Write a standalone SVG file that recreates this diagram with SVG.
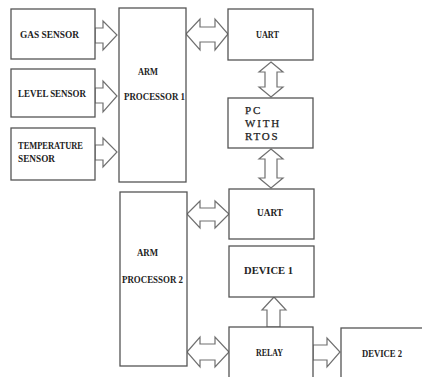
<svg xmlns="http://www.w3.org/2000/svg" width="422" height="377" viewBox="0 0 422 377">
<style>
.box{fill:#fff;stroke:#555;stroke-width:1.3}
.arr{fill:#fff;stroke:#707070;stroke-width:1.2;stroke-linejoin:miter}
.t{font-family:"Liberation Serif","Times New Roman",serif;font-weight:bold;font-size:9.5px;fill:#222}
.pc{font-family:"Liberation Serif","Times New Roman",serif;font-size:11px;fill:#222;letter-spacing:1.8px;stroke:#222;stroke-width:0.25}
</style>
<rect width="422" height="377" fill="#fff"/>
<g id="connectors">
<polygon class="arr" points="95,28 103,28 103,21 117,35 103,50 103,43 95,43"/>
<polygon class="arr" points="95,88 103,88 103,81 117,96 103,112 103,103 95,103"/>
<polygon class="arr" points="95,145 103,145 103,138 117,152 103,167 103,160 95,160"/>
<polygon class="arr" points="186,34 200,19 200,27 215,27 215,19 228,34 215,50 215,42 200,42 200,50"/>
<polygon class="arr" points="271,62 283,72 277,72 277,87 283,87 271,97 259,87 265,87 265,72 259,72"/>
<polygon class="arr" points="271,149 283,159 277,159 277,178 283,178 271,188 259,178 265,178 265,159 259,159"/>
<polygon class="arr" points="187,214 200,201 200,208 215,208 215,201 229,214 215,228 215,221 200,221 200,228"/>
<polygon class="arr" points="187,352 200,337 200,344 215,344 215,337 229,352 215,367 215,360 200,360 200,367"/>
<polygon class="arr" points="274,297 286,310 280,310 280,327 267,327 267,310 262,310"/>
<polygon class="arr" points="313,345 327,345 327,338 340,352 327,367 327,360 313,360"/>
</g>
<g id="gas-sensor"><rect class="box" x="11" y="9" width="84" height="50"/><text class="t" x="20" y="38" textLength="59" lengthAdjust="spacingAndGlyphs">GAS SENSOR</text></g>
<g id="level-sensor"><rect class="box" x="11" y="69" width="84" height="48"/><text class="t" x="18" y="97" textLength="68" lengthAdjust="spacingAndGlyphs">LEVEL SENSOR</text></g>
<g id="temperature-sensor"><rect class="box" x="11" y="128" width="84" height="52"/><text class="t" x="18" y="149" textLength="65" lengthAdjust="spacingAndGlyphs">TEMPERATURE</text><text class="t" x="18" y="162" textLength="37" lengthAdjust="spacingAndGlyphs">SENSOR</text></g>
<g id="arm1"><rect class="box" x="119" y="8" width="67" height="174"/><text class="t" x="138" y="75" textLength="20" lengthAdjust="spacingAndGlyphs">ARM</text><text class="t" x="124" y="100" textLength="61" lengthAdjust="spacingAndGlyphs">PROCESSOR 1</text></g>
<g id="uart1"><rect class="box" x="228" y="9" width="85" height="51"/><text class="t" x="256" y="38" textLength="23" lengthAdjust="spacingAndGlyphs">UART</text></g>
<g id="pc"><rect class="box" x="228" y="98" width="85" height="50"/><text class="pc" x="245" y="114">PC</text><text class="pc" x="245" y="127">WITH</text><text class="pc" x="245" y="140">RTOS</text></g>
<g id="arm2"><rect class="box" x="120" y="192" width="67" height="174"/><text class="t" x="137" y="256" textLength="21" lengthAdjust="spacingAndGlyphs">ARM</text><text class="t" x="122" y="283" textLength="61" lengthAdjust="spacingAndGlyphs">PROCESSOR 2</text></g>
<g id="uart2"><rect class="box" x="229" y="189" width="85" height="50"/><text class="t" x="257" y="216" textLength="26" lengthAdjust="spacingAndGlyphs">UART</text></g>
<g id="device1"><rect class="box" x="229" y="246" width="85" height="51"/><text class="t" x="244" y="274" textLength="49" lengthAdjust="spacingAndGlyphs">DEVICE 1</text></g>
<g id="relay"><rect class="box" x="229" y="327" width="84" height="60"/><text class="t" x="256" y="356" textLength="27" lengthAdjust="spacingAndGlyphs">RELAY</text></g>
<g id="device2"><rect class="box" x="341" y="328" width="90" height="60"/><text class="t" x="362" y="357" textLength="40" lengthAdjust="spacingAndGlyphs">DEVICE 2</text></g>
</svg>
